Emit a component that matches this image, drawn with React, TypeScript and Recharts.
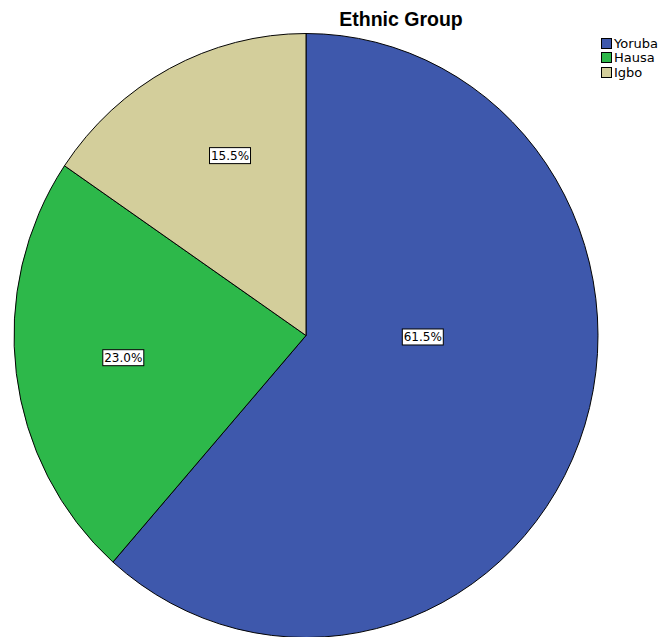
import React from "react";
import { PieChart, Pie, Cell, Legend, Sector } from "recharts";

const categories = ["Yoruba", "Hausa", "Igbo"];
const percents = [61.5, 23.0, 15.5];
const colors = ["#3E58AC", "#2DB84A", "#D3CE9B"];

// label placement style (radius fraction of outer radius, angle shift in degrees)
const labelRadiusFrac = [0.4, 0.63, 0.65];
const labelAngleShift = [20, -0.5, -4.3];

const data = categories.map((name, i) => ({ name, value: percents[i] }));

const W = 667;
const H = 637;
const CX = 306;
const CY = 335.5;
const R = 292;
const KY = 302 / 292;
const RAD = Math.PI / 180;

const EllipseSector = (props: any) => {
  const { cy } = props;
  return (
    <g transform={`translate(0 ${cy}) scale(1 ${KY}) translate(0 ${-cy})`}>
      <Sector {...props} stroke="#000" strokeWidth={1 / KY} />
    </g>
  );
};

const renderLabel = (props: any) => {
  const { cx, cy, midAngle, outerRadius, index, value } = props;
  const a = midAngle + labelAngleShift[index];
  const r = outerRadius * labelRadiusFrac[index];
  const x = cx + Math.cos(-a * RAD) * r;
  const y = cy + Math.sin(-a * RAD) * r * KY;
  const text = `${Number(value).toFixed(1)}%`;
  const w = 41;
  const h = 16;
  return (
    <g>
      <rect x={x - w / 2} y={y - h / 2} width={w} height={h} fill="#fff" stroke="#000" strokeWidth={1} />
      <text
        x={x}
        y={y}
        textAnchor="middle"
        dominantBaseline="central"
        fontFamily="DejaVu Sans"
        fontSize={12}
        fill="#000"
      >
        {text}
      </text>
    </g>
  );
};

const renderLegend = (props: any) => {
  const payload = [...(props.payload || [])].sort(
    (a: any, b: any) => categories.indexOf(a.value) - categories.indexOf(b.value)
  );
  return (
    <div style={{ fontFamily: "DejaVu Sans", fontSize: 13, color: "#000" }}>
      {payload.map((entry: any, i: number) => (
        <div key={i} style={{ display: "flex", alignItems: "center", height: 14.5 }}>
          <span
            style={{
              display: "inline-block",
              width: 9,
              height: 9,
              background: entry.color,
              border: "1px solid #000",
              marginRight: 2,
            }}
          />
          <span>{entry.value}</span>
        </div>
      ))}
    </div>
  );
};

export default function App() {
  return (
    <div style={{ position: "absolute", left: 0, top: 0, width: W, height: H, background: "#fff" }}>
      <PieChart width={W} height={H} margin={{ top: 0, right: 0, bottom: 0, left: 0 }}>
        <text
          x={401}
          y={26}
          textAnchor="middle"
          fontFamily="Liberation Sans"
          fontWeight="bold"
          fontSize={19.5}
          fill="#000"
        >
          Ethnic Group
        </text>
        <Pie
          data={data}
          dataKey="value"
          nameKey="name"
          cx={CX}
          cy={CY}
          outerRadius={R}
          innerRadius={0}
          startAngle={90}
          endAngle={-270}
          stroke="#000"
          strokeWidth={1}
          isAnimationActive={false}
          labelLine={false}
          label={renderLabel}
          shape={EllipseSector}
          activeShape={EllipseSector}
          inactiveShape={EllipseSector}
        >
          {data.map((d, i) => (
            <Cell key={d.name} fill={colors[i]} />
          ))}
        </Pie>
        <Legend
          layout="vertical"
          align="right"
          verticalAlign="top"
          content={renderLegend}
          wrapperStyle={{ position: "absolute", left: 601, top: 36, width: 66 }}
        />
      </PieChart>
    </div>
  );
}
